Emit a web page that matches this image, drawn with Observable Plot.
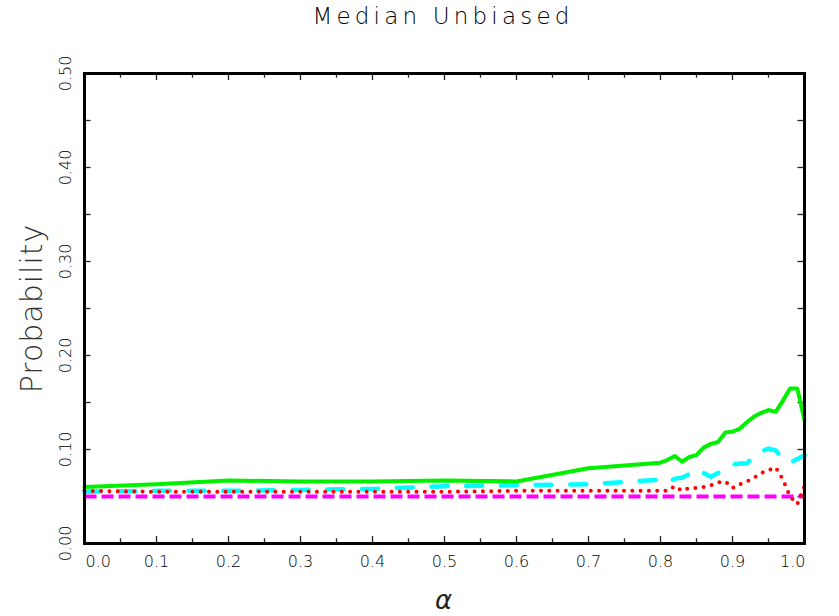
<!DOCTYPE html>
<html>
<head>
<meta charset="utf-8">
<script src="https://cdn.jsdelivr.net/npm/d3@7"></script>
<script src="https://cdn.jsdelivr.net/npm/@observablehq/plot@0.6"></script>
<style>
  html, body { margin: 0; padding: 0; background: #fff; }
  #wrap { position: relative; width: 839px; height: 616px; }
  #title { position: absolute; left: 0; top: 3px; width: 886px; text-align: center;
    font-family: "DejaVu Sans", sans-serif; font-weight: 200; font-size: 23px; letter-spacing: 4.2px; color: #000; }
  svg text { font-family: "DejaVu Sans", sans-serif; }
</style>
</head>
<body>
<div id="wrap">
  <div id="title">Median Unbiased</div>
  <div id="chart"></div>
</div>
<script>
const alpha = [0, 0.1, 0.2, 0.3, 0.4, 0.5, 0.6, 0.7, 0.8,
  0.81, 0.82, 0.83, 0.84, 0.85, 0.86, 0.87, 0.88, 0.89, 0.90,
  0.91, 0.92, 0.93, 0.94, 0.95, 0.96, 0.97, 0.98, 0.99, 1.0];
const greenSeries = [0.060, 0.063, 0.067, 0.066, 0.066, 0.067, 0.066, 0.080, 0.086,
  0.089, 0.093, 0.087, 0.092, 0.094, 0.102, 0.106, 0.108, 0.118, 0.119,
  0.122, 0.129, 0.135, 0.139, 0.142, 0.140, 0.152, 0.165, 0.165, 0.131];
const cyanSeries = [0.055, 0.056, 0.056, 0.057, 0.058, 0.061, 0.062, 0.063, 0.068,
  0.065, 0.069, 0.070, 0.074, 0.079, 0.075, 0.071, 0.075, 0.079, 0.084,
  0.085, 0.085, 0.094, 0.098, 0.101, 0.099, 0.090, 0.086, 0.090, 0.094];
const redSeries = [0.056, 0.055, 0.055, 0.055, 0.055, 0.055, 0.056, 0.056, 0.056,
  0.056, 0.061, 0.056, 0.059, 0.059, 0.060, 0.062, 0.065, 0.066, 0.059,
  0.063, 0.066, 0.070, 0.075, 0.078, 0.081, 0.068, 0.050, 0.042, 0.061];
const magentaSeries = [0.05, 0.05, 0.05, 0.05, 0.05, 0.05, 0.05, 0.05, 0.05,
  0.05, 0.05, 0.05, 0.05, 0.05, 0.05, 0.05, 0.05, 0.05, 0.05,
  0.05, 0.05, 0.05, 0.05, 0.05, 0.05, 0.05, 0.05, 0.05, 0.05];

const xMajor = [0, 0.1, 0.2, 0.3, 0.4, 0.5, 0.6, 0.7, 0.8, 0.9, 1.0];
const xMinor = [0.05, 0.15, 0.25, 0.35, 0.45, 0.55, 0.65, 0.75, 0.85, 0.95];
const xLabels = ["0.0", "0.1", "0.2", "0.3", "0.4", "0.5", "0.6", "0.7", "0.8", "0.9", "1.0"];
const yMajor = [0, 0.1, 0.2, 0.3, 0.4, 0.5];
const yMinor = [0.05, 0.15, 0.25, 0.35, 0.45];
const yLabels = ["0.00", "0.10", "0.20", "0.30", "0.40", "0.50"];

const rows = alpha.map((a, i) => ({a, g: greenSeries[i], c: cyanSeries[i], r: redSeries[i], m: magentaSeries[i]}));
const xl = xMajor.map((v, i) => ({v, t: xLabels[i]}));
const yl = yMajor.map((v, i) => ({v, t: yLabels[i]}));

const tickStyle = {stroke: "#222", strokeWidth: 1.3};
const lab = {fontSize: 16, fontWeight: 300, fill: "#000"};

const chart = Plot.plot({
  width: 839,
  height: 616,
  marginTop: 73,
  marginBottom: 73,
  marginLeft: 84,
  marginRight: 35,
  x: {domain: [0, 1], axis: null},
  y: {domain: [0, 0.5], axis: null},
  style: {background: "transparent", overflow: "visible"},
  marks: [
    Plot.ruleX(xMajor, {x: d => d, y1: 0, y2: 0.0075, ...tickStyle}),
    Plot.ruleX(xMinor, {x: d => d, y1: 0, y2: 0.005, ...tickStyle}),
    Plot.ruleX(xMajor, {x: d => d, y1: 0.5, y2: 0.4925, ...tickStyle}),
    Plot.ruleX(xMinor, {x: d => d, y1: 0.5, y2: 0.495, ...tickStyle}),
    Plot.ruleY(yMajor, {y: d => d, x1: 0, x2: 0.009, ...tickStyle}),
    Plot.ruleY(yMinor, {y: d => d, x1: 0, x2: 0.009, ...tickStyle}),
    Plot.ruleY(yMajor, {y: d => d, x1: 1, x2: 0.991, ...tickStyle}),
    Plot.ruleY(yMinor, {y: d => d, x1: 1, x2: 0.991, ...tickStyle}),
    Plot.line(rows, {x: "a", y: "m", stroke: "#ff00ff", strokeWidth: 4, strokeDasharray: "12 5", strokeLinecap: "butt"}),
    Plot.line(rows, {x: "a", y: "c", stroke: "#00ffff", strokeWidth: 4.5, strokeDasharray: "16 18.7", strokeLinecap: "round", strokeLinejoin: "round"}),
    Plot.line(rows, {x: "a", y: "r", stroke: "#ff0000", strokeWidth: 4, strokeDasharray: "0 8.3", strokeLinecap: "round"}),
    Plot.line(rows, {x: "a", y: "g", stroke: "#00f000", strokeWidth: 4, strokeLinejoin: "round"}),
    Plot.frame({stroke: "#000", strokeWidth: 3}),
    Plot.text(xl.slice(0, 1), {x: "v", y: 0, text: "t", dy: 18, dx: 1, textAnchor: "start", ...lab}),
    Plot.text(xl.slice(1, -1), {x: "v", y: 0, text: "t", dy: 18, textAnchor: "middle", ...lab}),
    Plot.text(xl.slice(-1), {x: "v", y: 0, text: "t", dy: 18, dx: 1, textAnchor: "end", ...lab}),
    Plot.text(yl, {y: "v", frameAnchor: "left", text: "t", dx: -19, rotate: -90, textAnchor: "middle", ...lab}),
    Plot.text(["Probability"], {frameAnchor: "left", text: d => d, dx: -52, dy: 0, rotate: -90, textAnchor: "middle", fontSize: 30, fontWeight: 200, fill: "#333", style: "letter-spacing:1px"}),
    Plot.text(["α"], {frameAnchor: "bottom", text: d => d, dy: 65, dx: -1, textAnchor: "middle", fontSize: 26, fontStyle: "italic", fontWeight: 300, fill: "#222"})
  ]
});
chart.querySelectorAll("text").forEach(t => { if (t.textContent === "Probability") t.setAttribute("letter-spacing", "1px"); });
document.getElementById("chart").appendChild(chart);
</script>
</body>
</html>
